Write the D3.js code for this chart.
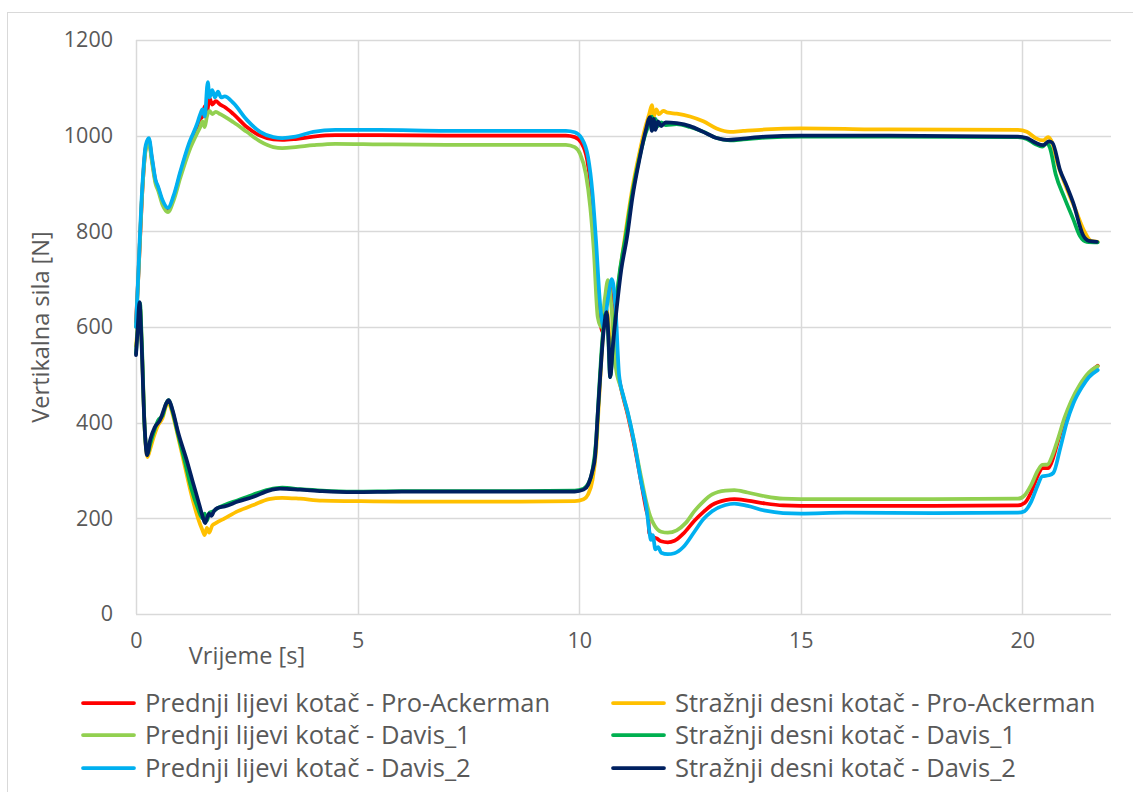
<!DOCTYPE html>
<html><head><meta charset="utf-8">
<script src="https://cdn.jsdelivr.net/npm/d3@7"></script>
<style>body{margin:0;background:#fff}svg{display:block}text{font-family:"Open Sans",Lato,sans-serif;fill:#595959}</style>
</head><body>
<svg id="c" width="1133" height="792"></svg>
<script>
const xTicks = [0,5,10,15,20];
const yTicks = [0,200,400,600,800,1000,1200];
const seriesNames = [
 "Prednji lijevi kotač - Pro-Ackerman","Stražnji desni kotač - Pro-Ackerman",
 "Prednji lijevi kotač - Davis_1","Stražnji desni kotač - Davis_1",
 "Prednji lijevi kotač - Davis_2","Stražnji desni kotač - Davis_2"];
const seriesColors = ["#FF0000","#FFC000","#92D050","#00B050","#00B0F0","#002060"];

const frontProAckerman = [[0,610],[0.06,720],[0.14,880],[0.22,975],[0.29,990],[0.36,950],[0.44,905],[0.5,890],[0.6,860],[0.72,845],[0.85,870],[1.0,920],[1.2,980],[1.38,1020],[1.45,1035],[1.5,1040],[1.55,1062],[1.6,1050],[1.66,1078],[1.72,1065],[1.8,1072],[1.9,1065],[2.0,1060],[2.2,1045],[2.5,1018],[2.8,1000],[3.1,992],[3.3,991],[3.6,993],[4.0,998],[4.5,1001],[5.5,1001],[7,1000],[9.7,1000],[9.9,997],[10.05,985],[10.18,950],[10.28,880],[10.36,780],[10.45,640],[10.52,590],[10.6,640],[10.68,690],[10.75,640],[10.85,520],[10.95,470],[11.1,415],[11.25,350],[11.4,275],[11.52,215],[11.56,200],[11.58,170],[11.65,162],[11.75,158],[11.85,152],[12.0,150],[12.15,153],[12.35,168],[12.6,195],[12.8,213],[13.0,228],[13.3,238],[13.5,240],[13.8,237],[14.2,231],[14.6,227],[15,226],[16,226],[18,226],[19.9,227],[20.05,232],[20.2,255],[20.35,290],[20.45,305],[20.58,305],[20.65,315],[20.8,360],[20.95,405],[21.1,440],[21.3,475],[21.5,503],[21.7,519]];
const rearProAckerman = [[0,560],[0.04,600],[0.09,640],[0.13,560],[0.2,380],[0.26,328],[0.32,345],[0.4,370],[0.5,395],[0.6,410],[0.68,435],[0.74,440],[0.82,420],[0.95,370],[1.1,310],[1.25,250],[1.4,200],[1.5,175],[1.55,165],[1.6,180],[1.65,170],[1.72,185],[1.8,190],[2.0,200],[2.3,215],[2.65,228],[3.0,240],[3.3,243],[3.7,241],[4.2,237],[4.9,236],[6,235],[8,235],[9.9,236],[10.1,240],[10.2,250],[10.3,280],[10.38,340],[10.45,450],[10.52,560],[10.6,640],[10.66,610],[10.72,520],[10.78,600],[10.9,700],[11.05,800],[11.2,890],[11.35,960],[11.5,1020],[11.58,1045],[11.64,1064],[11.68,1040],[11.74,1055],[11.8,1045],[11.9,1052],[12.0,1048],[12.2,1046],[12.5,1040],[12.8,1030],[13.1,1015],[13.4,1008],[13.7,1010],[14.2,1013],[15,1015],[17,1013],[19.9,1012],[20.1,1008],[20.3,995],[20.47,990],[20.58,997],[20.65,990],[20.8,940],[21.0,890],[21.2,845],[21.4,800],[21.55,780],[21.7,778]];
const frontDavis1 = [[0,600],[0.06,720],[0.14,880],[0.22,970],[0.29,985],[0.36,945],[0.44,900],[0.5,885],[0.6,855],[0.72,840],[0.85,865],[1.0,912],[1.2,968],[1.38,1005],[1.45,1018],[1.5,1030],[1.55,1018],[1.6,1040],[1.66,1052],[1.72,1045],[1.8,1050],[1.9,1045],[2.0,1040],[2.2,1028],[2.5,1008],[2.8,988],[3.1,976],[3.3,974],[3.6,976],[4.0,980],[4.5,983],[5.5,982],[7,981],[9.7,981],[9.9,976],[10.02,962],[10.15,920],[10.25,850],[10.33,760],[10.42,620],[10.5,600],[10.58,660],[10.65,698],[10.72,650],[10.82,520],[10.95,470],[11.1,418],[11.25,355],[11.4,285],[11.52,232],[11.6,205],[11.7,185],[11.85,172],[12.0,170],[12.2,175],[12.4,190],[12.6,215],[12.8,235],[13.0,250],[13.3,258],[13.5,259],[13.8,254],[14.2,246],[14.6,241],[15,240],[16,240],[18,240],[19.9,241],[20.05,248],[20.2,270],[20.35,300],[20.45,312],[20.58,313],[20.65,325],[20.8,365],[20.95,410],[21.1,445],[21.3,480],[21.5,505],[21.7,518]];
const rearDavis1 = [[0,545],[0.04,600],[0.09,650],[0.13,570],[0.2,380],[0.26,335],[0.32,355],[0.4,380],[0.5,405],[0.6,415],[0.68,440],[0.74,447],[0.82,425],[0.95,375],[1.1,320],[1.25,262],[1.4,220],[1.5,200],[1.55,210],[1.6,195],[1.66,212],[1.75,215],[1.85,222],[2.0,228],[2.3,238],[2.65,250],[3.0,260],[3.3,264],[3.7,261],[4.2,258],[4.9,256],[6,257],[8,257],[9.9,258],[10.1,262],[10.2,272],[10.3,300],[10.38,360],[10.45,470],[10.52,570],[10.6,630],[10.65,590],[10.7,495],[10.76,560],[10.88,690],[11.05,790],[11.2,880],[11.35,950],[11.5,1005],[11.58,1025],[11.64,1040],[11.68,1015],[11.72,1035],[11.78,1020],[11.85,1028],[11.95,1022],[12.2,1024],[12.5,1018],[12.8,1008],[13.1,995],[13.4,990],[13.7,992],[14.2,996],[15,998],[17,998],[19.9,997],[20.1,993],[20.3,982],[20.45,977],[20.55,985],[20.62,975],[20.75,920],[20.95,870],[21.15,825],[21.3,790],[21.45,778],[21.7,777]];
const frontDavis2 = [[0,600],[0.06,730],[0.14,890],[0.22,980],[0.29,995],[0.36,955],[0.44,908],[0.5,893],[0.6,865],[0.72,849],[0.85,875],[1.0,925],[1.2,985],[1.38,1025],[1.45,1045],[1.5,1055],[1.55,1040],[1.62,1112],[1.66,1080],[1.72,1095],[1.78,1080],[1.85,1092],[1.92,1080],[2.0,1082],[2.2,1068],[2.5,1033],[2.8,1008],[3.1,997],[3.3,995],[3.6,998],[4.0,1008],[4.5,1012],[5.5,1012],[7,1010],[9.7,1010],[9.9,1007],[10.05,995],[10.2,955],[10.3,880],[10.38,780],[10.47,650],[10.55,600],[10.65,660],[10.74,700],[10.82,640],[10.9,500],[11.0,455],[11.1,420],[11.25,355],[11.4,275],[11.52,220],[11.58,175],[11.62,155],[11.66,165],[11.72,135],[11.78,140],[11.85,128],[12.0,125],[12.15,127],[12.35,140],[12.6,172],[12.8,198],[13.0,215],[13.3,228],[13.5,231],[13.8,226],[14.2,216],[14.6,211],[15,210],[16,212],[18,211],[19.9,212],[20.05,215],[20.2,235],[20.35,270],[20.45,288],[20.6,290],[20.7,295],[20.85,345],[21.0,400],[21.15,440],[21.35,475],[21.5,495],[21.7,510]];
const rearDavis2 = [[0,541],[0.04,600],[0.08,652],[0.12,580],[0.19,400],[0.25,332],[0.32,364],[0.42,390],[0.54,405],[0.62,425],[0.68,440],[0.74,447],[0.82,428],[0.95,380],[1.15,320],[1.3,270],[1.4,238],[1.5,205],[1.56,190],[1.6,200],[1.65,210],[1.7,205],[1.76,215],[1.83,221],[2.0,225],[2.3,235],[2.65,245],[3.0,258],[3.25,262],[3.7,260],[4.2,257],[4.9,255],[6,256],[8,256],[9.9,256],[10.1,260],[10.2,270],[10.3,300],[10.36,330],[10.42,420],[10.47,490],[10.55,590],[10.62,631],[10.66,580],[10.7,495],[10.76,560],[10.85,642],[10.95,720],[11.08,788],[11.2,870],[11.37,955],[11.5,1010],[11.6,1039],[11.64,1010],[11.68,1035],[11.72,1012],[11.78,1030],[11.85,1020],[11.95,1028],[12.2,1026],[12.5,1020],[12.8,1008],[13.1,995],[13.33,991],[13.7,994],[14.2,998],[15,1000],[17,1000],[19.9,998],[20.1,995],[20.3,985],[20.47,980],[20.6,988],[20.68,985],[20.85,928],[21.0,895],[21.15,859],[21.37,792],[21.5,780],[21.68,778]];

const seriesData = [frontProAckerman, rearProAckerman, frontDavis1, rearDavis1, frontDavis2, rearDavis2];

const svg = d3.select("#c");
const L=136, R=1111, T=40, B=614;
const x = d3.scaleLinear().domain([0,22]).range([L,R]);
const y = d3.scaleLinear().domain([0,1200]).range([B,T]);
const grid = "#d9d9d9";

svg.append("rect").attr("x",7.5).attr("y",12.5).attr("width",1140).attr("height",800)
  .attr("fill","#fff").attr("stroke",grid).attr("stroke-width",1);

svg.append("g").selectAll("line").data(yTicks).join("line")
  .attr("x1",L).attr("x2",R).attr("y1",d=>Math.round(y(d))+0.5).attr("y2",d=>Math.round(y(d))+0.5)
  .attr("stroke",grid).attr("stroke-width",1.5);
svg.append("g").selectAll("line").data(xTicks).join("line")
  .attr("y1",T).attr("y2",B).attr("x1",d=>Math.round(x(d))+0.5).attr("x2",d=>Math.round(x(d))+0.5)
  .attr("stroke",grid).attr("stroke-width",1.5);

const yAxis = d3.axisLeft(y).tickValues(yTicks).tickFormat(d3.format("d")).tickSize(0).tickPadding(23);
const gy = svg.append("g").attr("transform",`translate(${L},0)`).call(yAxis);
gy.select(".domain").remove();
gy.selectAll("text").style("font-size","21.5px").attr("fill","#595959").style("font-family","Open Sans");

const xAxis = d3.axisBottom(x).tickValues(xTicks).tickFormat(d3.format("d")).tickSize(0).tickPadding(19);
const gx = svg.append("g").attr("transform",`translate(0,${B})`).call(xAxis);
gx.select(".domain").remove();
gx.selectAll("text").style("font-size","21.5px").attr("fill","#595959").style("font-family","Open Sans");

svg.append("text").attr("x",247).attr("y",664).attr("text-anchor","middle")
  .style("font-size","23.5px").text("Vrijeme [s]");
svg.append("text").attr("transform","translate(49,327) rotate(-90)").attr("text-anchor","middle")
  .style("font-size","23.5px").text("Vertikalna sila [N]");

const line = d3.line().x(d=>x(d[0])).y(d=>y(d[1])).curve(d3.curveMonotoneX);
svg.append("g").selectAll("path").data(seriesData).join("path")
  .attr("d",line).attr("fill","none")
  .attr("stroke",(d,i)=>seriesColors[i]).attr("stroke-width",3.75)
  .attr("stroke-linejoin","round").attr("stroke-linecap","round");

const legRows=[703,735,768], legCols=[83,613];
const lg = svg.append("g");
seriesNames.forEach((n,i)=>{
  const cx = legCols[i%2], cy = legRows[Math.floor(i/2)];
  lg.append("line").attr("x1",cx).attr("x2",cx+51).attr("y1",cy).attr("y2",cy)
    .attr("stroke",seriesColors[i]).attr("stroke-width",3.75).attr("stroke-linecap","round");
  lg.append("text").attr("x",cx+62).attr("y",cy).attr("dy","0.35em")
    .style("font-size","25.5px").text(n);
});
</script>
</body></html>
